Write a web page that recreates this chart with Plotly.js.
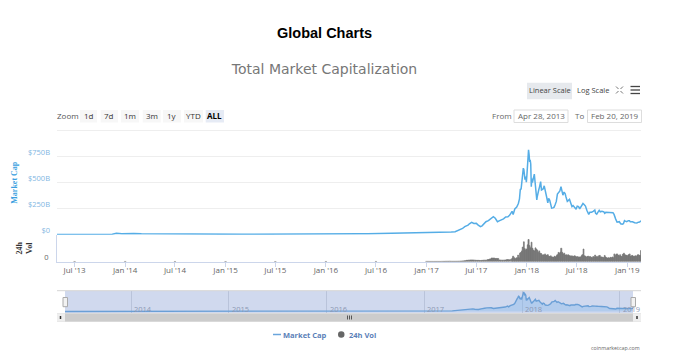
<!DOCTYPE html>
<html><head><meta charset="utf-8">
<script src="https://cdn.plot.ly/plotly-3.0.1.min.js"></script>
<style>html,body{margin:0;padding:0;background:#fff}#c{width:680px;height:357px}</style>
</head><body><div id="c"></div>
<script>
const capDates=["2013-04-28","2013-06-01","2013-07-05","2013-08-01","2013-09-01","2013-10-01","2013-11-01","2013-11-15","2013-11-30","2013-12-04","2013-12-10","2013-12-20","2014-01-05","2014-02-01","2014-03-01","2014-04-01","2014-05-01","2014-06-01","2014-07-01","2014-08-01","2014-09-01","2014-10-01","2014-11-01","2014-12-01","2015-01-01","2015-02-01","2015-03-01","2015-04-01","2015-05-01","2015-06-01","2015-07-01","2015-08-01","2015-09-01","2015-10-01","2015-11-01","2015-12-01","2016-01-01","2016-02-01","2016-03-01","2016-04-01","2016-05-01","2016-06-01","2016-07-01","2016-08-01","2016-09-01","2016-10-01","2016-11-01","2016-12-01","2017-01-01","2017-02-01","2017-03-01","2017-03-15","2017-04-01","2017-04-15","2017-04-25","2017-05-05","2017-05-12","2017-05-20","2017-05-26","2017-06-01","2017-06-06","2017-06-14","2017-06-22","2017-07-01","2017-07-08","2017-07-16","2017-07-22","2017-08-01","2017-08-05","2017-08-14","2017-08-22","2017-09-01","2017-09-08","2017-09-16","2017-09-24","2017-10-01","2017-10-08","2017-10-16","2017-10-24","2017-10-30","2017-11-08","2017-11-12","2017-11-18","2017-11-25","2017-12-01","2017-12-05","2017-12-08","2017-12-11","2017-12-14","2017-12-17","2017-12-19","2017-12-21","2017-12-23","2017-12-25","2017-12-28","2017-12-30","2018-01-01","2018-01-03","2018-01-05","2018-01-07","2018-01-09","2018-01-11","2018-01-13","2018-01-15","2018-01-17","2018-01-19","2018-01-21","2018-01-23","2018-01-25","2018-01-28","2018-01-31","2018-02-02","2018-02-04","2018-02-06","2018-02-08","2018-02-10","2018-02-13","2018-02-16","2018-02-20","2018-02-23","2018-02-26","2018-03-01","2018-03-05","2018-03-08","2018-03-11","2018-03-14","2018-03-18","2018-03-21","2018-03-25","2018-03-29","2018-04-01","2018-04-06","2018-04-10","2018-04-14","2018-04-18","2018-04-22","2018-04-26","2018-05-01","2018-05-05","2018-05-08","2018-05-12","2018-05-16","2018-05-20","2018-05-23","2018-05-28","2018-06-01","2018-06-05","2018-06-10","2018-06-14","2018-06-18","2018-06-22","2018-06-25","2018-06-29","2018-07-03","2018-07-08","2018-07-12","2018-07-17","2018-07-20","2018-07-24","2018-07-28","2018-08-02","2018-08-07","2018-08-10","2018-08-14","2018-08-18","2018-08-24","2018-08-30","2018-09-05","2018-09-08","2018-09-12","2018-09-16","2018-09-21","2018-09-25","2018-10-01","2018-10-08","2018-10-11","2018-10-15","2018-10-25","2018-11-05","2018-11-10","2018-11-14","2018-11-18","2018-11-20","2018-11-25","2018-11-28","2018-12-03","2018-12-08","2018-12-14","2018-12-18","2018-12-22","2018-12-25","2018-12-30","2019-01-05","2019-01-09","2019-01-12","2019-01-20","2019-01-28","2019-02-05","2019-02-10","2019-02-15","2019-02-20"];
const marketCap=[1.6,1.4,0.9,1.2,1.6,1.6,2.5,4.5,13,15,11,8,11,11,8,7,6,8,8.5,7.5,6.5,5.5,5,5.5,5,3.5,3.5,3.6,3.5,3.5,4,4,3.6,3.7,4.8,5.5,7,6.8,8,8,8.5,10,11.5,10.5,11,11.5,12.5,13.5,18,19,23,25,25,28,38,48,60,78,84,92,105,119,108,109,92,77,85,110,125,135,150,173,158,125,135,140,152,170,172,186,225,195,247,265,300,345,435,440,540,590,640,625,560,530,560,505,570,680,740,817,770,700,720,680,462,540,500,520,530,583,500,420,400,335,370,420,430,460,510,430,440,440,470,420,390,360,305,350,330,270,255,258,265,290,320,390,400,420,462,430,380,410,395,365,320,330,340,300,270,280,265,250,245,275,270,248,270,290,300,290,275,235,220,195,215,215,225,237,205,197,215,235,220,225,220,205,215,212,215,212,195,175,150,120,125,125,105,100,105,135,130,125,135,135,125,125,115,112,120,122,135];
const volDates=["2013-07-01","2014-01-01","2014-07-01","2015-01-01","2015-07-01","2016-01-01","2016-07-01","2017-01-01","2017-01-08","2017-01-15","2017-01-22","2017-01-29","2017-02-05","2017-02-12","2017-02-19","2017-02-26","2017-03-05","2017-03-12","2017-03-19","2017-03-26","2017-04-02","2017-04-09","2017-04-16","2017-04-23","2017-04-30","2017-05-07","2017-05-14","2017-05-21","2017-05-28","2017-06-04","2017-06-11","2017-06-18","2017-06-25","2017-07-02","2017-07-09","2017-07-16","2017-07-23","2017-07-30","2017-08-06","2017-08-13","2017-08-20","2017-08-27","2017-09-03","2017-09-10","2017-09-17","2017-09-24","2017-10-01","2017-10-08","2017-10-15","2017-10-22","2017-10-29",
"2017-11-05","2017-11-09","2017-11-12","2017-11-16","2017-11-19","2017-11-23","2017-11-26","2017-11-30",
"2017-12-03","2017-12-07","2017-12-10","2017-12-14","2017-12-17","2017-12-21","2017-12-24","2017-12-28","2017-12-31",
"2018-01-04","2018-01-07","2018-01-11","2018-01-14","2018-01-18","2018-01-21","2018-01-25","2018-01-28",
"2018-02-01","2018-02-04","2018-02-08","2018-02-11","2018-02-15","2018-02-18","2018-02-22","2018-02-25",
"2018-03-01","2018-03-04","2018-03-08","2018-03-11","2018-03-15","2018-03-18","2018-03-22","2018-03-25","2018-03-29",
"2018-04-01","2018-04-05","2018-04-08","2018-04-12","2018-04-15","2018-04-19","2018-04-22","2018-04-26","2018-04-29",
"2018-05-03","2018-05-06","2018-05-10","2018-05-13","2018-05-17","2018-05-20","2018-05-24","2018-05-27","2018-05-31",
"2018-06-03","2018-06-07","2018-06-10","2018-06-14","2018-06-17","2018-06-21","2018-06-24","2018-06-28",
"2018-07-01","2018-07-05","2018-07-08","2018-07-12","2018-07-15","2018-07-19","2018-07-22","2018-07-26","2018-07-29",
"2018-08-02","2018-08-05","2018-08-09","2018-08-12","2018-08-16","2018-08-19","2018-08-23","2018-08-26","2018-08-30",
"2018-09-02","2018-09-06","2018-09-09","2018-09-13","2018-09-16","2018-09-20","2018-09-23","2018-09-27","2018-09-30",
"2018-10-04","2018-10-07","2018-10-11","2018-10-14","2018-10-18","2018-10-21","2018-10-25","2018-10-28",
"2018-11-01","2018-11-04","2018-11-08","2018-11-11","2018-11-15","2018-11-18","2018-11-22","2018-11-25","2018-11-29",
"2018-12-02","2018-12-06","2018-12-09","2018-12-13","2018-12-16","2018-12-20","2018-12-23","2018-12-27","2018-12-30",
"2019-01-03","2019-01-06","2019-01-10","2019-01-13","2019-01-17","2019-01-20","2019-01-24","2019-01-27","2019-01-31",
"2019-02-03","2019-02-07","2019-02-10","2019-02-14","2019-02-17","2019-02-20"];
const volume24h=[0.05,0.1,0.05,0.03,0.03,0.06,0.1,0.3,0.3,0.2,0.2,0.2,0.2,0.2,0.2,0.3,0.4,0.5,0.6,0.7,0.5,0.5,0.5,0.6,0.7,1,1.5,2,3,3.5,4,4,3.5,3,3,2.5,3,3.5,3.5,5,6.5,9,9,8,8,4,3.5,3.5,4,5,4.5,
6,9,14,10,7,9,10,17,
10,22,24,28,38,52,34,30,33,
44,58,42,36,51,35,30,28,
36,33,30,24,28,22,21,17,
18,17,20,16,17,18,14,13,15,
12,12,11,14,12,15,18,24,22,
25,35,24,20,22,17,18,16,18,
16,15,14,15,13,14,15,13,
12,13,11,12,12,15,18,33,15,
14,12,13,14,12,13,11,10,13,
12,17,12,14,11,15,16,12,12,
11,10,16,12,10,9,10,9,
11,10,12,10,20,16,19,20,17,
15,18,14,13,19,22,18,17,16,
15,18,20,14,15,16,13,14,15,
14,17,18,16,16,29];
const tickVals=[0,250,500,750,1000];
const tickText=["$0","$250B","$500B","$750B",""];
const rangeButtons=["1d","7d","1m","3m","1y","YTD","ALL"];
const navYears=["2014","2015","2016","2017","2018","2019"];

const W=680,H=357,X=v=>v/W,Y=v=>1-v/H;
const FONT='"Open Sans", sans-serif';
const start="2013-04-28",end="2019-02-20";
const DAY=864e5;
const barWidths=volDates.map((d,i)=>i+1<volDates.length?Math.min(Date.parse(volDates[i+1])-Date.parse(d),7*DAY):3*DAY);
const rect=(x0,y0,x1,y1,fill,line)=>({type:'rect',xref:'paper',yref:'paper',x0:X(x0),x1:X(x1),y0:Y(y0),y1:Y(y1),fillcolor:fill,line:{width:line?1:0,color:line||fill},layer:'below'});
const seg=(x0,y0,x1,y1,c,w)=>({type:'line',xref:'paper',yref:'paper',x0:X(x0),x1:X(x1),y0:Y(y0),y1:Y(y1),line:{color:c,width:w||1}});
const txt=(x,y,t,o)=>Object.assign({xref:'paper',yref:'paper',x:X(x),y:Y(y),text:t,showarrow:false,xanchor:'center',yanchor:'middle',font:{family:FONT,size:8,color:'#555'}},o||{});

const traces=[
 {type:'bar',x:volDates,y:volume24h,xaxis:'x',yaxis:'y2',name:'24h Vol',width:barWidths,marker:{color:'#757575',line:{width:0.7,color:'#757575'}},showlegend:false},
 {type:'scatter',mode:'lines',x:capDates,y:marketCap,xaxis:'x',yaxis:'y',name:'Market Cap',line:{color:'#55ade6',width:1.5},showlegend:false},
 {type:'scatter',mode:'lines',x:capDates,y:marketCap,xaxis:'x2',yaxis:'y3',name:'Navigator',line:{color:'#6a9fd6',width:1.4},fill:'tozeroy',fillcolor:'rgba(124,181,236,0.35)',showlegend:false}
];

const shapes=[
 seg(57,130.5,641,130.5,'#eeeeee'),
 rect(65,291,633,313,'#d0d9ee'),
 seg(57,290.7,641,290.7,'#d4d4d4'),
 rect(57,313.3,641,321.7,'#cccccc'),
 rect(57,313.3,65,321.7,'#eeeeee'),
 rect(633,313.3,641,321.7,'#eeeeee'),
 seg(60.5,316,60.5,319,'#333',1.5),
 seg(637,316,637,319,'#333',1.5),
 seg(347.5,315.5,347.5,319.5,'#555'),seg(349.5,315.5,349.5,319.5,'#555'),seg(351.5,315.5,351.5,319.5,'#555'),
 rect(63,297.5,67.5,306.7,'#f2f2f2','#aaaaaa'),
 rect(631,297.5,635.5,306.7,'#f2f2f2','#aaaaaa'),
 rect(527,82.7,572,99.3,'#e6e9ed'),
 rect(514,110,568,122.5,'#ffffff','#dddddd'),
 rect(587.5,110,641.5,122.5,'#ffffff','#dddddd'),
 seg(630.5,86.5,640,86.5,'#444',1.3),seg(630.5,90,640,90,'#444',1.3),seg(630.5,93.5,640,93.5,'#444',1.3),
 seg(616,86.5,618.5,89,'#777'),seg(623,86.5,620.5,89,'#777'),seg(616,93.5,618.5,91,'#777'),seg(623,93.5,620.5,91,'#777'),
 seg(273,334.5,281,334.5,'#6aa5dc',1.5),
 {type:'circle',xref:'paper',yref:'paper',x0:X(338),x1:X(344.5),y0:Y(331.2),y1:Y(337.7),fillcolor:'#666',line:{width:0}}
];
const btnX=[[80,97],[100.7,118],[121,139],[142.7,160.7],[163,181],[184,203],[205.7,224]];
const annotations=[
 txt(324,33,'Global Charts',{font:{family:'"Liberation Sans",Arial,sans-serif',size:14.5,color:'#000',weight:700}}),
 txt(67.5,116,'Zoom'),
 txt(549.5,90,'Linear Scale',{font:{family:FONT,size:7.5,color:'#444'}}),
 txt(592.5,90,'Log Scale',{font:{family:FONT,size:7.5,color:'#444'}}),
 txt(501.5,115.5,'From',{font:{family:FONT,size:8,color:'#666'}}),
 txt(541,115.5,'Apr 28, 2013',{font:{family:FONT,size:8,color:'#666'}}),
 txt(579,115.5,'To',{font:{family:FONT,size:8,color:'#666'}}),
 txt(614.5,115.5,'Feb 20, 2019',{font:{family:FONT,size:8,color:'#666'}}),
 txt(305,334.5,'Market Cap',{font:{family:FONT,size:7.5,color:'#5b7fb8',weight:700}}),
 txt(362,334.5,'24h Vol',{font:{family:FONT,size:7.5,color:'#5b7fb8',weight:700}}),
 txt(641.5,348,'coinmarketcap.com',{xanchor:'right',font:{family:FONT,size:5.3,color:'#666'}})
];
rangeButtons.forEach((b,i)=>{
 const a=b==='ALL';
 shapes.push(rect(btnX[i][0],110,btnX[i][1],122.5,a?'#e6ebf5':'#f7f7f7'));
 annotations.push(txt((btnX[i][0]+btnX[i][1])/2,115.5,b,{font:{family:FONT,size:8,color:a?'#000':'#333',weight:a?700:400}}));
});
navYears.forEach(y=>annotations.push({xref:'x2',yref:'paper',x:y+'-01-01',y:Y(308.5),text:y,showarrow:false,xanchor:'left',xshift:1,yanchor:'middle',font:{family:FONT,size:7.5,color:'#8d99b5'}}));

const layout={
 width:W,height:H,margin:{l:0,r:0,t:0,b:0},paper_bgcolor:'#fff',plot_bgcolor:'rgba(0,0,0,0)',showlegend:false,hovermode:false,barmode:'overlay',bargap:0,
 title:{text:'Total Market Capitalization',x:X(324.5),xanchor:'center',xref:'paper',y:Y(69.5),yref:'paper',yanchor:'middle',font:{family:'"DejaVu Sans",sans-serif',size:14,color:'#777'}},
 xaxis:{domain:[X(57),X(641)],range:[start,end],anchor:'y2',type:'date',tick0:'2013-07-01',dtick:'M6',tickformat:"%b '%y",showgrid:false,showline:true,linecolor:'#ccd6eb',linewidth:1,ticks:'outside',ticklen:4,tickcolor:'#ccd6eb',ticklabelstandoff:-3,tickfont:{family:FONT,size:8,color:'#666'},zeroline:false},
 yaxis:{domain:[Y(234.7),Y(130.7)],range:[0,1000],anchor:'x',tickmode:'array',tickvals:tickVals,ticktext:tickText,gridcolor:'#eeeeee',zeroline:false,ticks:'',ticklabelstandoff:6,ticklabelshift:-4,tickfont:{family:FONT,size:7.5,color:'#7fb6e2'},showline:false,
   title:{text:'Market Cap',standoff:9,font:{family:'"Liberation Serif",serif',size:8,color:'#3a9fe0',weight:700}}},
 yaxis2:{domain:[Y(261.5),Y(235)],range:[0,70],anchor:'x',tickmode:'array',tickvals:[0],ticktext:['0'],showgrid:false,zeroline:false,showline:true,linecolor:'#ccd6eb',ticks:'',ticklabelstandoff:6,ticklabelshift:-4,tickfont:{family:FONT,size:7.5,color:'#666'},
   title:{text:'24h<br>Vol',standoff:10,font:{family:'"Liberation Serif",serif',size:8,color:'#333',weight:700}}},
 xaxis2:{domain:[X(65),X(633)],range:[start,end],anchor:'y3',type:'date',tick0:'2014-01-01',dtick:'M12',showticklabels:false,ticks:'',showgrid:true,gridcolor:'#b9c3da',gridwidth:1,zeroline:false,showline:false},
 yaxis3:{domain:[Y(313),Y(291)],range:[-63,858],anchor:'x2',showticklabels:false,showgrid:false,zeroline:false,ticks:'',showline:false},
 shapes:shapes,annotations:annotations
};
Plotly.newPlot('c',traces,layout,{staticPlot:true,displayModeBar:false});
</script></body></html>
